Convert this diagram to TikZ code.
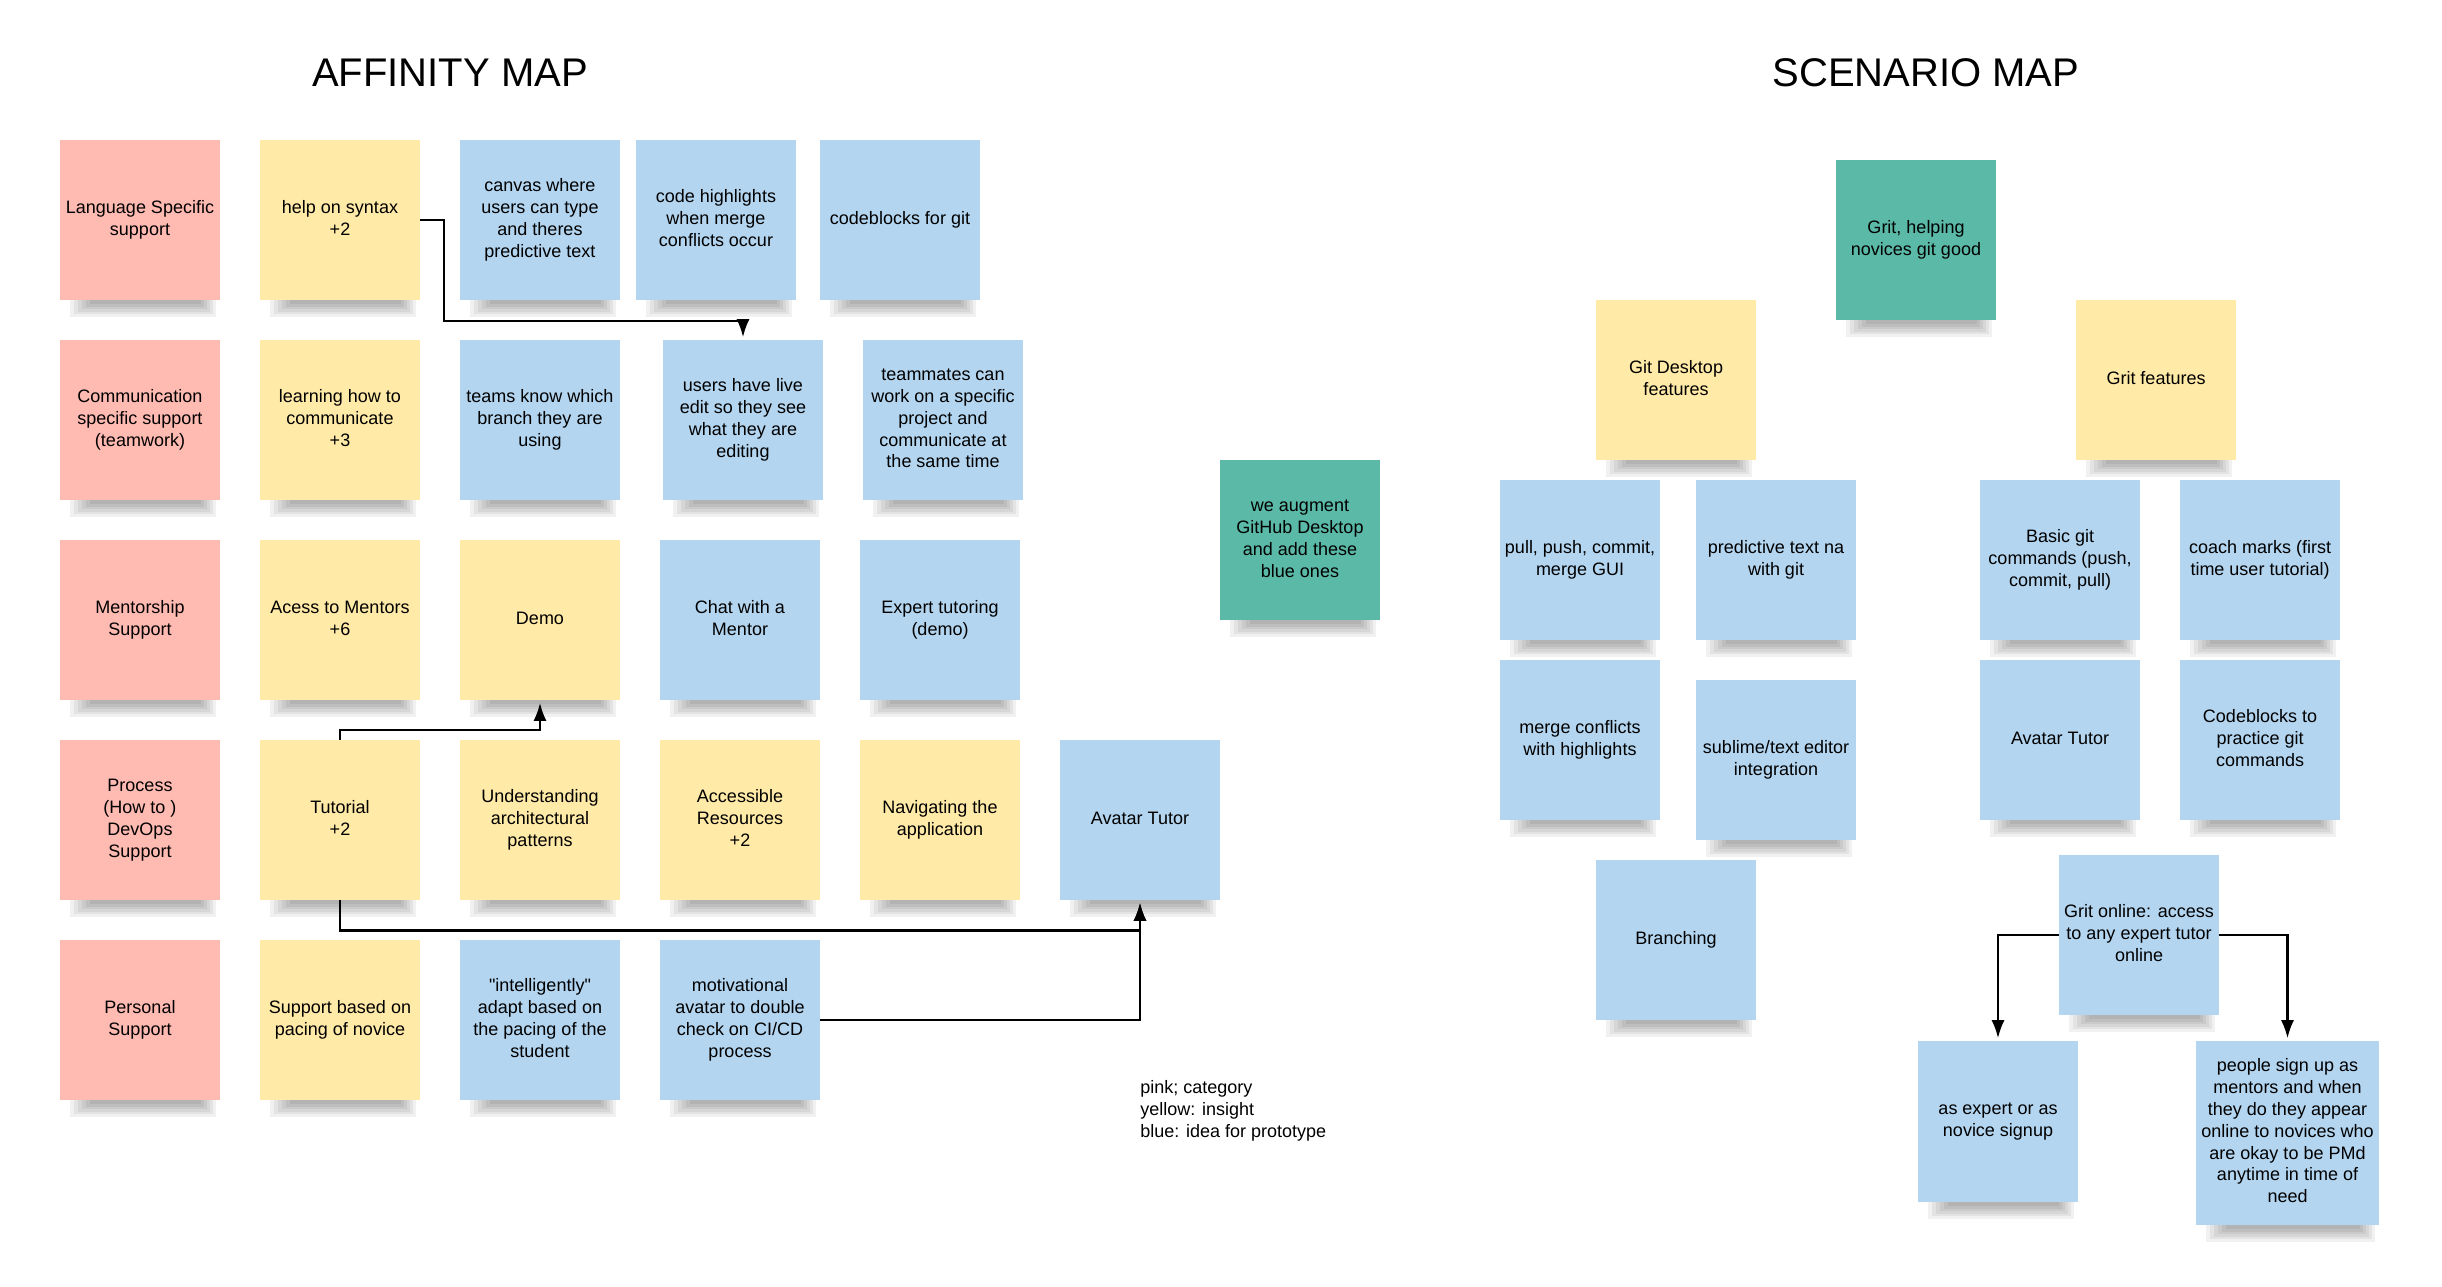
\documentclass[tikz,border=0pt]{standalone}
\usepackage{fontspec}
\setmainfont{Liberation Sans}[Ligatures=TeXOff]
\usetikzlibrary{arrows.meta}
\definecolor{notepink}{HTML}{FFBAB1}
\definecolor{noteyellow}{HTML}{FFEAA7}
\definecolor{noteblue}{HTML}{B3D5F0}
\definecolor{noteteal}{HTML}{5BB9A7}
\tikzset{
  stickybox/.style={rectangle, inner sep=0pt, align=center, font=\fontsize{9}{10.9}\selectfont, text=black},
  conn/.style={draw=black, line width=1.1pt, shorten >=1.2pt, -{Latex[length=9pt,width=6.5pt]}},
  titletext/.style={font=\fontsize{20}{24}\selectfont},
}
% name, colour, left x, top y, width, height, text
\newcommand\stickynote[7]{%
  \foreach \i in {0,...,5}{%
    \fill[black, opacity=0.055] ({#3+10+\i*4},{#4+#6}) rectangle ({#3+#5-4-\i*3},{#4+#6+17-\i*2.6});
  }%
  \node[stickybox, fill=#2, minimum width={#5*0.5pt}, minimum height={#6*0.5pt}] (#1) at ({#3+#5/2},{#4+#6/2}) {\raisebox{1pt}{\begin{tabular}{@{}c@{}}#7\end{tabular}}};
}
\begin{document}
\begin{tikzpicture}[x=0.5pt, y=-0.5pt]
\useasboundingbox[fill=white] (0,0) rectangle (2442,1286);

% titles
\node[titletext] (t1) at (450,73) {AFFINITY MAP};
\node[titletext] (t2) at (1926,73) {SCENARIO MAP};

% ---------- affinity map ----------
% row 1
\stickynote{lang}{notepink}{60}{140}{160}{160}{Language Specific\\support}
\stickynote{syntax}{noteyellow}{260}{140}{160}{160}{help on syntax\\+2}
\stickynote{canvas}{noteblue}{460}{140}{160}{160}{canvas where\\users can type\\and theres\\predictive text}
\stickynote{codehl}{noteblue}{636}{140}{160}{160}{code highlights\\when merge\\conflicts occur}
\stickynote{codeblk}{noteblue}{820}{140}{160}{160}{codeblocks for git}
% row 2
\stickynote{comm}{notepink}{60}{340}{160}{160}{Communication\\specific support\\(teamwork)}
\stickynote{learn}{noteyellow}{260}{340}{160}{160}{learning how to\\communicate\\+3}
\stickynote{branch}{noteblue}{460}{340}{160}{160}{teams know which\\branch they are\\using}
\stickynote{live}{noteblue}{663}{340}{160}{160}{users have live\\edit so they see\\what they are\\editing}
\stickynote{mates}{noteblue}{863}{340}{160}{160}{teammates can\\work on a specific\\project and\\communicate at\\the same time}
% row 3
\stickynote{mentor}{notepink}{60}{540}{160}{160}{Mentorship\\Support}
\stickynote{access}{noteyellow}{260}{540}{160}{160}{Acess to Mentors\\+6}
\stickynote{demo}{noteyellow}{460}{540}{160}{160}{Demo}
\stickynote{chat}{noteblue}{660}{540}{160}{160}{Chat with a\\Mentor}
\stickynote{expert}{noteblue}{860}{540}{160}{160}{Expert tutoring\\(demo)}
% row 4
\stickynote{process}{notepink}{60}{740}{160}{160}{Process\\(How to )\\DevOps\\Support}
\stickynote{tut}{noteyellow}{260}{740}{160}{160}{Tutorial\\+2}
\stickynote{arch}{noteyellow}{460}{740}{160}{160}{Understanding\\architectural\\patterns}
\stickynote{res}{noteyellow}{660}{740}{160}{160}{Accessible\\Resources\\+2}
\stickynote{nav}{noteyellow}{860}{740}{160}{160}{Navigating the\\application}
\stickynote{avatar}{noteblue}{1060}{740}{160}{160}{Avatar Tutor}
% row 5
\stickynote{personal}{notepink}{60}{940}{160}{160}{Personal\\Support}
\stickynote{pacing}{noteyellow}{260}{940}{160}{160}{Support based on\\pacing of novice}
\stickynote{intel}{noteblue}{460}{940}{160}{160}{"intelligently"\\adapt based on\\the pacing of the\\student}
\stickynote{motiv}{noteblue}{660}{940}{160}{160}{motivational\\avatar to double\\check on CI/CD\\process}

% augment note
\stickynote{augment}{noteteal}{1220}{460}{160}{160}{we augment\\GitHub Desktop\\and add these\\blue ones}

% legend
\node[anchor=west, align=left, inner sep=0pt, font=\fontsize{9}{10.9}\selectfont] (legend) at (1140,1111) {pink; category\\yellow: insight\\blue: idea for prototype};

% affinity connectors
\draw[conn] (syntax.east) -| (444,321) -| (live.north);
\draw[conn] (tut.north) -- ++(0,-10) -| (demo.south);
\draw[conn] (tut.south) -- ++(0,30) -| (avatar.south);
\draw[conn] (motiv.east) -| (avatar.south);

% ---------- scenario map ----------
\stickynote{grit}{noteteal}{1836}{160}{160}{160}{Grit, helping\\novices git good}
\stickynote{gdf}{noteyellow}{1596}{300}{160}{160}{Git Desktop\\features}
\stickynote{gf}{noteyellow}{2076}{300}{160}{160}{Grit features}
\stickynote{ppc}{noteblue}{1500}{480}{160}{160}{pull, push, commit,\\merge GUI}
\stickynote{pred}{noteblue}{1696}{480}{160}{160}{predictive text na\\with git}
\stickynote{basic}{noteblue}{1980}{480}{160}{160}{Basic git\\commands (push,\\commit, pull)}
\stickynote{coach}{noteblue}{2180}{480}{160}{160}{coach marks (first\\time user tutorial)}
\stickynote{mch}{noteblue}{1500}{660}{160}{160}{merge conflicts\\with highlights}
\stickynote{subl}{noteblue}{1696}{680}{160}{160}{sublime/text editor\\integration}
\stickynote{avatar2}{noteblue}{1980}{660}{160}{160}{Avatar Tutor}
\stickynote{cbp}{noteblue}{2180}{660}{160}{160}{Codeblocks to\\practice git\\commands}
\stickynote{branching}{noteblue}{1596}{860}{160}{160}{Branching}
\stickynote{online}{noteblue}{2059}{855}{160}{160}{Grit online: access\\to any expert tutor\\online}
\stickynote{signup}{noteblue}{1918}{1041}{160}{161}{as expert or as\\novice signup}
\stickynote{people}{noteblue}{2196}{1041}{183}{184}{people sign up as\\mentors and when\\they do they appear\\online to novices who\\are okay to be PMd\\anytime in time of\\need}

\draw[conn] (online.west) -| (signup.north);
\draw[conn] (online.east) -| (people.north);
\end{tikzpicture}
\end{document}
